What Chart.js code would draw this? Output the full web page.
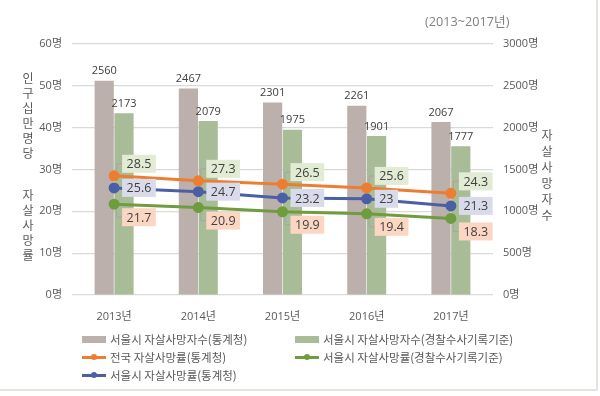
<!DOCTYPE html>
<html>
<head>
<meta charset="utf-8">
<script src="https://cdn.jsdelivr.net/npm/chart.js@4"></script>
<style>
  html, body { margin: 0; padding: 0; background: #fff; }
  #wrap { position: relative; width: 600px; height: 396px; overflow: hidden; font-family: "Open Sans", "Noto Sans CJK KR", sans-serif; }
  #frame { position: absolute; left: 0; top: 0; width: 596px; height: 389px; border-right: 2px solid #e4e4dc; border-bottom: 2px solid #e4e4dc; pointer-events: none; }
  .vtitle { position: absolute; width: 16px; text-align: center; font-size: 12px; color: #595959; font-family: "Noto Sans CJK KR", sans-serif; }
  .vtitle span { display: block; height: 15px; line-height: 15px; }
  #tr span { height: 16px; line-height: 16px; }
  #period { position: absolute; left: 425px; top: 11px; font-size: 12.7px; color: #808080; font-family: "Open Sans", "Noto Sans CJK KR", sans-serif; }
  .lg { position: absolute; font-size: 11.5px; color: #595959; font-family: "Noto Sans CJK KR", sans-serif; white-space: nowrap; height: 16px; line-height: 16px; }
  .lg .mk { position: absolute; left: 0; width: 24px; }
  .lg .dot { position: absolute; left: 9px; top: -2px; width: 6px; height: 6px; border-radius: 50%; }
  .lg .tx { position: absolute; left: 28px; top: 0; }
</style>
</head>
<body>
<div id="wrap">
  <canvas id="c" width="600" height="396"></canvas>
  <div id="period">(2013~2017년)</div>
  <div class="vtitle" id="tl1" style="left:20px;top:70px"></div>
  <div class="vtitle" id="tl2" style="left:20px;top:187px"></div>
  <div class="vtitle" id="tr" style="left:539px;top:127px"></div>
  <div id="legend"></div>
  <div id="frame"></div>
</div>
<script>
var years = ['2013년', '2014년', '2015년', '2016년', '2017년'];
var seoulDeathsStat = [2560, 2467, 2301, 2261, 2067];
var seoulDeathsPolice = [2173, 2079, 1975, 1901, 1777];
var nationRateStat = [28.5, 27.3, 26.5, 25.6, 24.3];
var seoulRatePolice = [21.7, 20.9, 19.9, 19.4, 18.3];
var seoulRateStat = [25.6, 24.7, 23.2, 23, 21.3];
var rateTicks = [0, 10, 20, 30, 40, 50, 60];
var countTicks = [0, 500, 1000, 1500, 2000, 2500, 3000];

var leftTitle1 = '인구십만명당';
var leftTitle2 = '자살사망률';
var rightTitle = '자살사망자수';

var GRAY_BAR = '#bbb0ab';
var GREEN_BAR = '#a9bc98';
var ORANGE = '#ed7d31';
var GREEN = '#6f9c3f';
var BLUE = '#4b5fa6';
var TXT = '#595959';

function vertical(id, s) {
  document.getElementById(id).innerHTML = s.split('').map(function(ch) { return '<span>' + ch + '</span>'; }).join('');
}
vertical('tl1', leftTitle1);
vertical('tl2', leftTitle2);
vertical('tr', rightTitle);

// label box placement for line series (dy = offset of box centre from point)
var lineLabelStyle = {
  2: { bg: '#e2ebd4', dy: -12, leader: true },
  3: { bg: '#fbd7c3', dy: 13, leader: true },
  4: { bg: '#d9dbea', dy: 0, leader: false }
};

var labelPlugin = {
  id: 'valueLabels',
  afterDatasetsDraw: function(chart) {
    var ctx = chart.ctx;
    ctx.save();
    chart.data.datasets.forEach(function(ds, i) {
      var meta = chart.getDatasetMeta(i);
      meta.data.forEach(function(el, j) {
        var v = ds.data[j];
        if (ds.type === 'bar') {
          ctx.font = '11px "Open Sans", "Noto Sans CJK KR", sans-serif';
          ctx.fillStyle = '#404040';
          ctx.textAlign = 'center';
          ctx.textBaseline = 'bottom';
          ctx.fillText(String(v), el.x, el.y - 4);
        } else {
          var st = lineLabelStyle[i];
          ctx.font = '12.5px "Open Sans", "Noto Sans CJK KR", sans-serif';
          var w = ctx.measureText(String(v)).width + 9;
          var h = 18;
          var bx = el.x + 8;
          var cy = el.y + st.dy;
          if (st.leader) {
            ctx.strokeStyle = '#a6a6a6';
            ctx.lineWidth = 1;
            ctx.beginPath();
            ctx.moveTo(el.x + 2.5, el.y + (st.dy < 0 ? -5 : 5));
            ctx.lineTo(el.x + 2.5, cy);
            ctx.lineTo(bx, cy);
            ctx.stroke();
          }
          ctx.fillStyle = st.bg;
          ctx.fillRect(bx, cy - h / 2, w, h);
          ctx.fillStyle = '#404040';
          ctx.textAlign = 'center';
          ctx.textBaseline = 'middle';
          ctx.fillText(String(v), bx + w / 2, cy + 1);
        }
      });
    });
    ctx.restore();
  }
};

var chart = new Chart(document.getElementById('c'), {
  data: {
    labels: years,
    datasets: [
      { type: 'bar', label: '서울시 자살사망자수(통계청)', data: seoulDeathsStat, yAxisID: 'y1',
        backgroundColor: GRAY_BAR, order: 2, categoryPercentage: 0.47, barPercentage: 0.97 },
      { type: 'bar', label: '서울시 자살사망자수(경찰수사기록기준)', data: seoulDeathsPolice, yAxisID: 'y1',
        backgroundColor: GREEN_BAR, order: 2, categoryPercentage: 0.47, barPercentage: 0.97 },
      { type: 'line', label: '전국 자살사망률(통계청)', data: nationRateStat, yAxisID: 'y',
        borderColor: ORANGE, backgroundColor: ORANGE, borderWidth: 3, pointRadius: 4, pointBackgroundColor: ORANGE, pointBorderColor: ORANGE, order: 1 },
      { type: 'line', label: '서울시 자살사망률(경찰수사기록기준)', data: seoulRatePolice, yAxisID: 'y',
        borderColor: GREEN, backgroundColor: GREEN, borderWidth: 3, pointRadius: 4, pointBackgroundColor: GREEN, pointBorderColor: GREEN, order: 1 },
      { type: 'line', label: '서울시 자살사망률(통계청)', data: seoulRateStat, yAxisID: 'y',
        borderColor: BLUE, backgroundColor: BLUE, borderWidth: 3, pointRadius: 4, pointBackgroundColor: BLUE, pointBorderColor: BLUE, order: 1 }
    ]
  },
  options: {
    responsive: false,
    animation: false,
    layout: { padding: { top: 44, left: 0, right: 0, bottom: 0 } },
    plugins: { legend: { display: false }, tooltip: { enabled: false } },
    scales: {
      x: {
        offset: true,
        grid: { display: false },
        border: { display: false },
        ticks: { color: TXT, font: { size: 11, family: '"Open Sans", "Noto Sans CJK KR", sans-serif' }, padding: 7 },
        afterFit: function(s) { s.height = 101; }
      },
      y: {
        position: 'left',
        min: 0, max: 60,
        afterBuildTicks: function(s) { s.ticks = rateTicks.map(function(v) { return { value: v }; }); },
        grid: { color: '#d9d9d9', drawTicks: false, lineWidth: 1.3 },
        border: { display: false },
        ticks: { color: TXT, padding: 10, font: { size: 11, family: '"Open Sans", "Noto Sans CJK KR", sans-serif' },
          callback: function(v) { return v + '명'; } },
        afterFit: function(s) { s.width = 72; }
      },
      y1: {
        position: 'right',
        min: 0, max: 3000,
        afterBuildTicks: function(s) { s.ticks = countTicks.map(function(v) { return { value: v }; }); },
        grid: { drawOnChartArea: false, drawTicks: false },
        border: { display: false },
        ticks: { color: TXT, padding: 10, font: { size: 11, family: '"Open Sans", "Noto Sans CJK KR", sans-serif' },
          callback: function(v) { return v + '명'; } },
        afterFit: function(s) { s.width = 107; }
      }
    }
  },
  plugins: [labelPlugin]
});

// legend in two columns, built from the chart datasets
var legendPos = [[82, 331], [295, 331], [82, 349], [295, 349], [82, 367]];
var lh = '';
chart.data.datasets.forEach(function(ds, i) {
  var p = legendPos[i];
  var col = ds.type === 'bar' ? ds.backgroundColor : ds.borderColor;
  var mk = ds.type === 'bar'
    ? '<span class="mk" style="top:5px;height:7px;background:' + col + '"></span>'
    : '<span class="mk" style="top:7px;height:3px;background:' + col + '"><span class="dot" style="background:' + col + '"></span></span>';
  lh += '<div class="lg" style="left:' + p[0] + 'px;top:' + p[1] + 'px">' + mk + '<span class="tx">' + ds.label + '</span></div>';
});
document.getElementById('legend').innerHTML = lh;
</script>
</body>
</html>
